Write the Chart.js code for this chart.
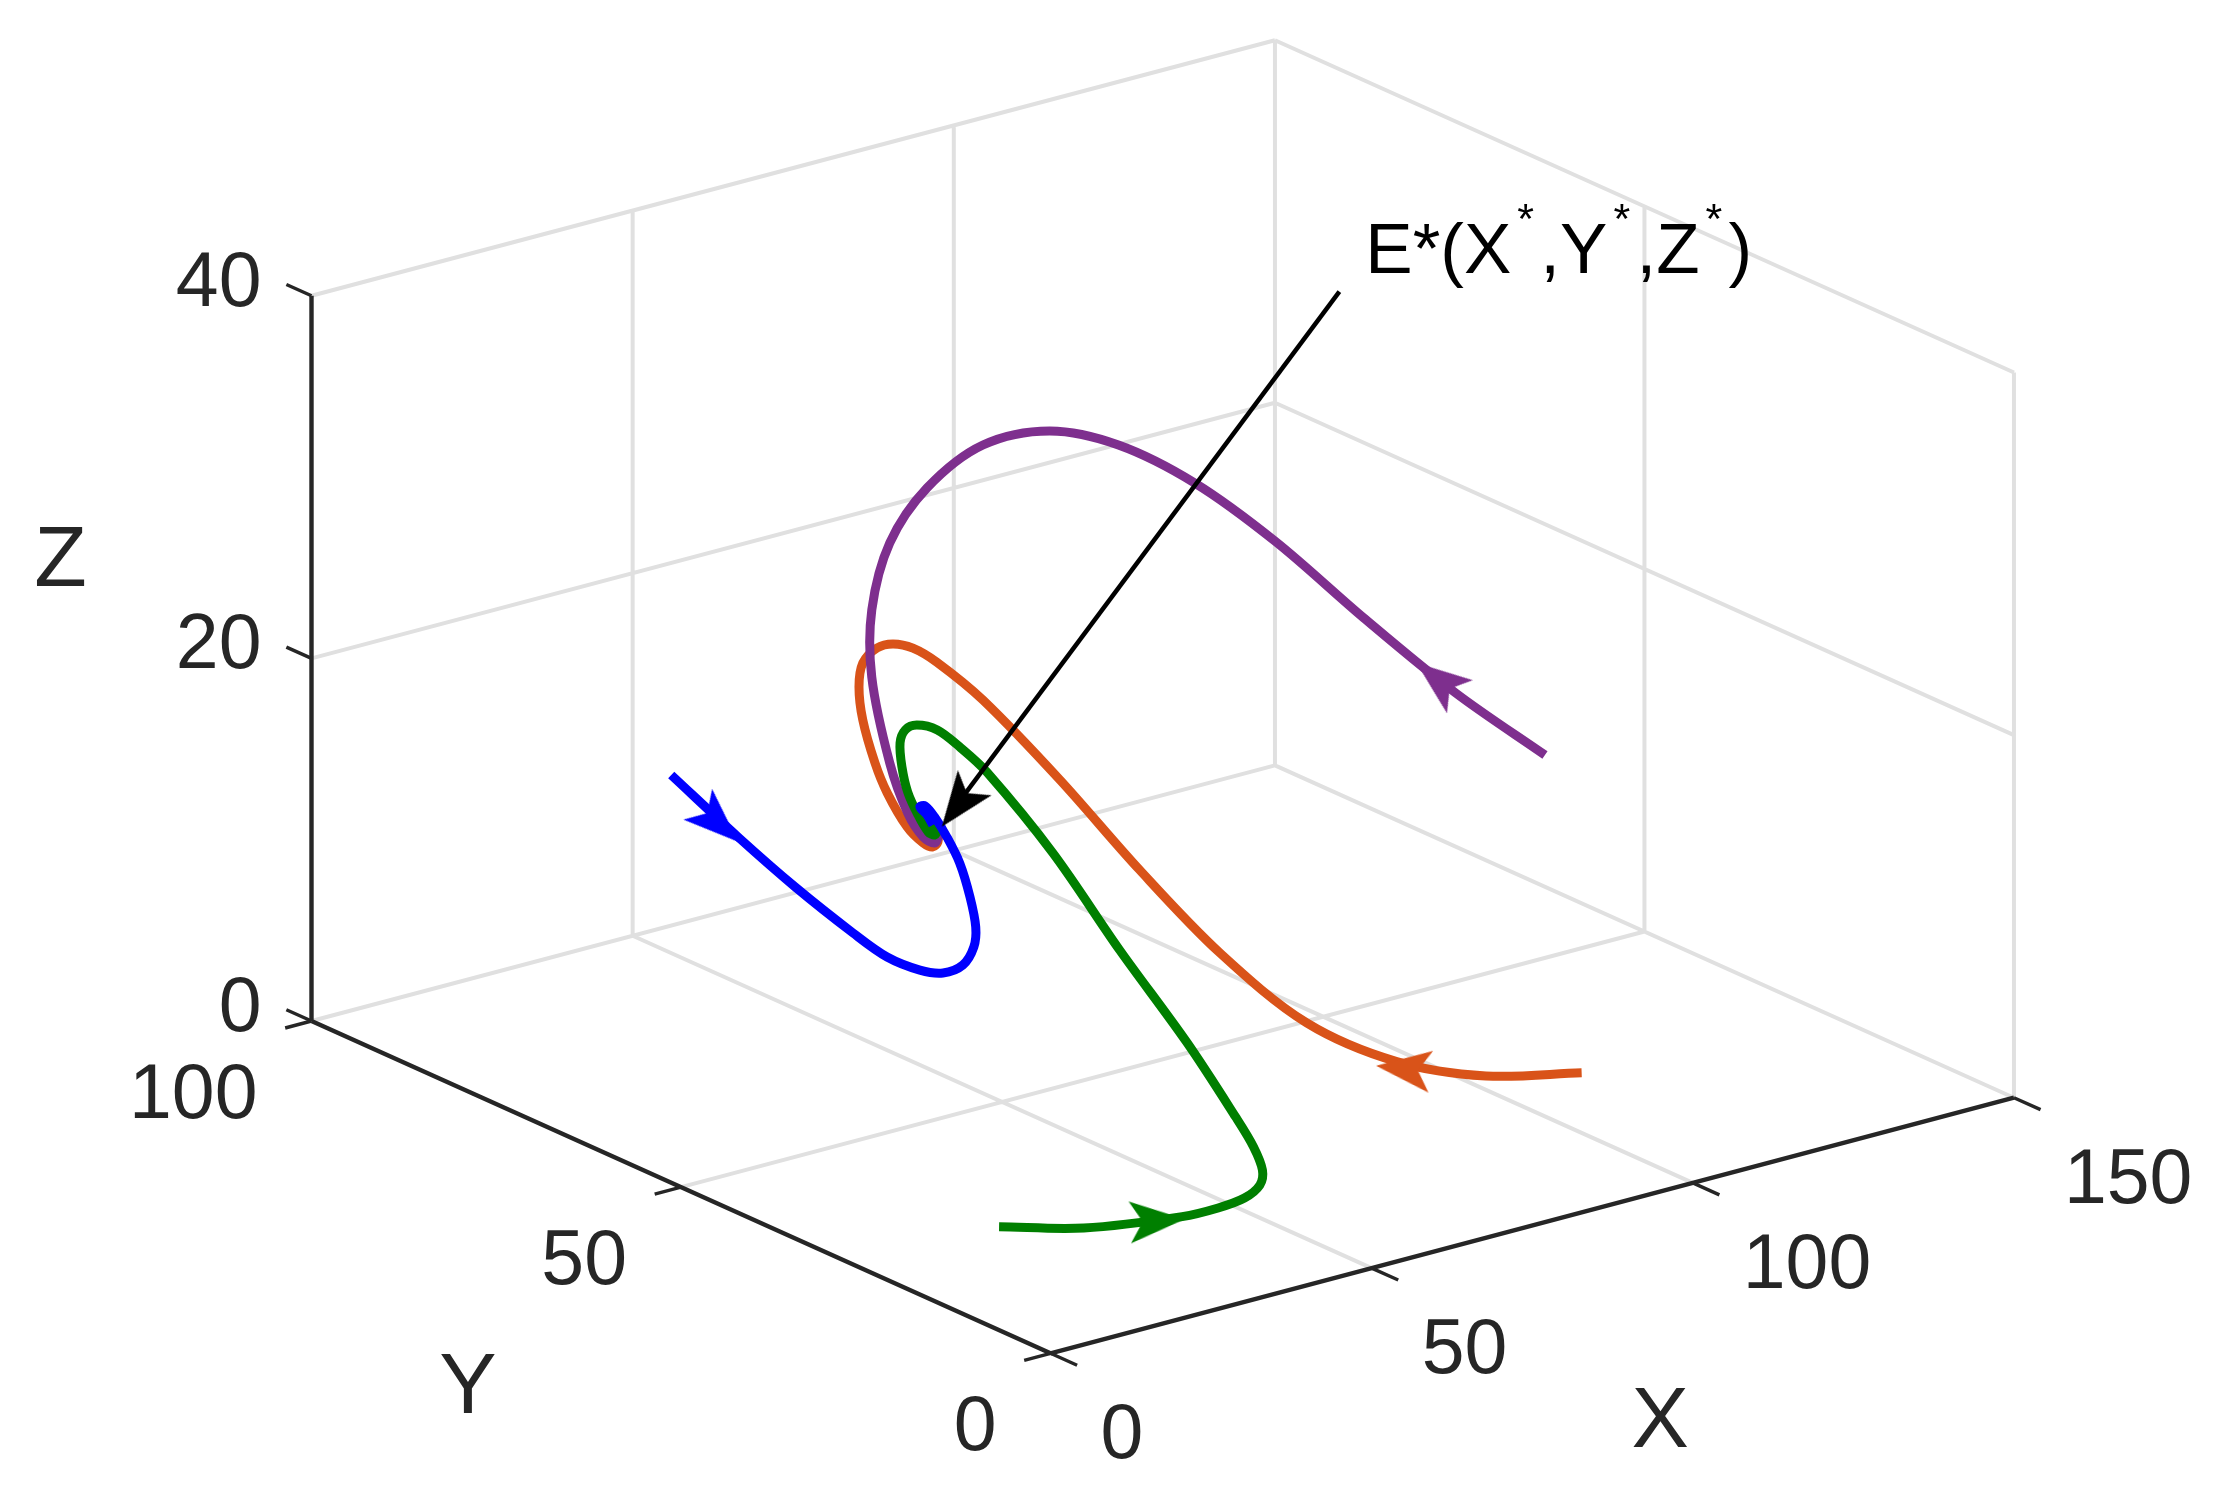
<!DOCTYPE html>
<html>
<head>
<meta charset="utf-8">
<title>E* phase portrait</title>
<script src="https://cdn.jsdelivr.net/npm/chart.js@4"></script>
<style>
	html, body { margin: 0; padding: 0; background: #fff; }
	canvas { display: block; }
</style>
</head>
<body>
<canvas id="chart" width="2225" height="1493"></canvas>
<script>
// axis ticks
const xTicks = [0, 50, 100, 150];
const yTicks = [0, 50, 100];
const zTicks = [0, 20, 40];

// trajectories, values
const purpleX = [111.5, 97.6, 83.3, 81.1, 68.5, 56.6, 45.9, 35.5, 26.8, 21.0, 18.2, 29.7, 32.5, 35.3, 37.7, 39.5, 40.0, 39.2];
const purpleY = [30, 30, 30, 40, 40, 40, 40, 40, 40, 40, 40, 50, 50, 50, 50, 50, 50, 50];
const purpleZ = [17.02, 21.75, 27.23, 29.81, 34.23, 37.45, 39.23, 39.43, 37.88, 35.39, 31.96, 25.35, 20.34, 17.31, 15.77, 15.27, 15.61, 16.24];

const orangeX = [94.2, 79.3, 65.4, 51.4, 49.4, 36.9, 36.0, 24.0, 16.8, 13.1, 10.0, 7.5, 5.3, 4.7, 28.3, 30.2, 32.1, 35.2, 37.7, 39.2, 40.0, 39.9, 39.1];
const orangeY = [10, 10, 10, 10, 20, 20, 30, 30, 30, 30, 30, 30, 30, 30, 50, 50, 50, 50, 50, 50, 50, 50, 50];
const orangeZ = [4.79, 6.01, 8.11, 11.56, 13.77, 19.52, 22.74, 28.28, 31.05, 32.17, 32.69, 32.70, 32.08, 30.81, 23.11, 20.56, 18.73, 16.56, 15.44, 15.08, 15.28, 15.84, 16.30];

const greenX = [3.5, 16.7, 32.0, 37.6, 41.7, 44.1, 44.5, 43.1, 40.3, 44.3, 33.8, 34.9, 24.6, 31.9, 28.4, 25.2, 23.4, 22.6, 34.4, 35.3, 36.9, 38.5, 39.5, 39.9, 39.1];
const greenY = [10, 10, 10, 10, 10, 10, 10, 10, 10, 20, 20, 30, 30, 40, 40, 40, 40, 40, 50, 50, 50, 50, 50, 50, 50];
const greenZ = [4.82, 3.51, 2.70, 2.65, 2.81, 3.30, 4.09, 5.51, 7.43, 9.29, 15.39, 18.81, 24.25, 23.11, 24.38, 24.95, 24.85, 24.21, 19.94, 18.47, 17.06, 15.97, 15.71, 15.95, 16.41];

const blueX = [44.5, 54.9, 52.3, 61.3, 55.1, 60.2, 63.8, 66.9, 68.6, 68.9, 56.5, 54.9, 41.4, 39.5, 38.0, 37.2, 38.3, 39.2];
const blueY = [90, 90, 80, 80, 70, 70, 70, 70, 70, 70, 60, 60, 50, 50, 50, 50, 50, 50];
const blueZ = [11.22, 6.82, 6.14, 2.76, 3.85, 2.65, 2.15, 2.30, 3.13, 4.20, 8.86, 10.88, 15.42, 16.70, 17.46, 17.47, 16.93, 16.29];

// annotation line, far end down to the base of its arrow head
const pointerX = [102.5, 44.1];
const pointerY = [50, 50];
const pointerZ = [39.76, 17.49];

// arrow heads: tip and the middle of the barbs
const arrowNames = ['pointer', 'blue', 'green', 'purple', 'orange'];
const arrowTipX = [40.6, 54.9, 32.4, 91.5, 62.2];
const arrowTipY = [50, 90, 10, 30, 10];
const arrowTipZ = [16.06, 6.56, 2.52, 23.98, 8.18];
const arrowTailX = [45.7, 49.1, 24.6, 98.5, 70.7];
const arrowTailY = [50, 90, 10, 30, 10];
const arrowTailZ = [18.0, 9.02, 3.09, 21.39, 7.05];

const colors = {
	pointer: '#000000',
	blue: '#0000ff',
	green: '#007f00',
	purple: '#7e2f8e',
	orange: '#d95319',
};
const axisColor = '#262626';
const gridColor = '#e0e0e0';
const font = '"Liberation Sans", Arial, sans-serif';

// orthographic view of the box, in canvas pixels per data unit
function project(x, y, z) {
	return { x: 6.423 * x - 7.39 * y, y: 1.704 * x + 3.323 * y + 18.13 * z };
}

function toPoints(xs, ys, zs) {
	return xs.map((x, i) => project(x, ys[i], zs[i]));
}

// one dataset per style, segments split by a gap
function segments(list) {
	const out = [];
	for (const [a, b] of list) {
		out.push(project(...a), project(...b), { x: NaN, y: NaN });
	}
	return out;
}

function curve(name, xs, ys, zs) {
	return {
		data: toPoints(xs, ys, zs),
		borderColor: colors[name],
		borderWidth: 9,
		borderJoinStyle: 'round',
		tension: 0.33,
		pointRadius: 0,
	};
}

function straight(data, color, width) {
	return { data, borderColor: color, borderWidth: width, tension: 0, pointRadius: 0, spanGaps: false };
}

// head is drawn pointing right, with its tip on the middle of the canvas
function makeHead(color) {
	const c = document.createElement('canvas');
	c.width = 130;
	c.height = 130;
	const g = c.getContext('2d');
	g.fillStyle = color;
	g.beginPath();
	g.moveTo(65, 65);
	g.lineTo(10, 44);
	g.lineTo(23, 65);
	g.lineTo(10, 86);
	g.closePath();
	g.fill();
	return c;
}

function arrowDataset(i) {
	const tip = project(arrowTipX[i], arrowTipY[i], arrowTipZ[i]);
	const tail = project(arrowTailX[i], arrowTailY[i], arrowTailZ[i]);
	const angle = Math.atan2(tail.y - tip.y, tip.x - tail.x) * 180 / Math.PI;
	return {
		data: [tip],
		showLine: false,
		pointStyle: makeHead(colors[arrowNames[i]]),
		pointRadius: 10,
		pointRotation: angle,
	};
}

const gridSegs = [];
for (const x of xTicks.slice(1)) {
	gridSegs.push([[x, 0, 0], [x, 100, 0]]);
	gridSegs.push([[x, 100, 0], [x, 100, 40]]);
}
for (const y of yTicks.slice(1)) {
	gridSegs.push([[0, y, 0], [150, y, 0]]);
}
for (const y of yTicks) {
	gridSegs.push([[150, y, 0], [150, y, 40]]);
}
for (const z of zTicks) {
	gridSegs.push([[0, 100, z], [150, 100, z]]);
	gridSegs.push([[150, 0, z], [150, 100, z]]);
}

const axisSegs = [
	[[0, 0, 0], [150, 0, 0]],
	[[0, 0, 0], [0, 100, 0]],
	[[0, 100, 0], [0, 100, 40]],
];

const tickSegs = [];
for (const x of xTicks) tickSegs.push([[x, 0, 0], [x, -3.6, 0]]);
for (const y of yTicks) tickSegs.push([[0, y, 0], [-4.1, y, 0]]);
for (const z of zTicks) tickSegs.push([[0, 100, z], [0, 103.4, z]]);

function drawLabel(ctx, chart, pos, dx, dy, text, size, align, color) {
	ctx.font = size + 'px ' + font;
	ctx.textAlign = align;
	ctx.textBaseline = 'alphabetic';
	ctx.fillStyle = color;
	const px = chart.scales.x.getPixelForValue(pos.x) + dx;
	const py = chart.scales.y.getPixelForValue(pos.y) + dy;
	ctx.fillText(text, px, py);
}

// E*(X*,Y*,Z*) with raised stars
function drawAnnotation(ctx, chart) {
	const pos = project(pointerX[0], pointerY[0], pointerZ[0]);
	let px = chart.scales.x.getPixelForValue(pos.x) + 26;
	const py = chart.scales.y.getPixelForValue(pos.y) - 19;
	ctx.textAlign = 'left';
	ctx.textBaseline = 'alphabetic';
	ctx.fillStyle = '#000';
	for (const part of ['E*(X', '^', ',Y', '^', ',Z', '^', ')']) {
		if (part === '^') {
			ctx.font = '43px ' + font;
			ctx.fillText('*', px + 6, py - 40);
			px += 29;
		} else {
			ctx.font = '71px ' + font;
			ctx.fillText(part, px, py);
			px += ctx.measureText(part).width;
		}
	}
}

const labelPlugin = {
	id: 'axisLabels',
	afterDatasetsDraw(chart) {
		const ctx = chart.ctx;
		ctx.save();
		for (const x of xTicks) drawLabel(ctx, chart, project(x, 0, 0), 50, 105, String(x), 77, 'left', axisColor);
		for (const y of yTicks) drawLabel(ctx, chart, project(0, y, 0), -54, 97, String(y), 77, 'right', axisColor);
		for (const z of zTicks) drawLabel(ctx, chart, project(0, 100, z), -50, 10, String(z), 77, 'right', axisColor);
		drawLabel(ctx, chart, project(75, 0, 0), 128, 221, 'X', 86, 'center', axisColor);
		drawLabel(ctx, chart, project(0, 50, 0), -213, 226, 'Y', 86, 'center', axisColor);
		drawLabel(ctx, chart, project(0, 100, 20), -251, -72, 'Z', 86, 'center', axisColor);
		drawAnnotation(ctx, chart);
		ctx.restore();
	},
};

// first dataset ends up on top
new Chart(document.getElementById('chart'), {
	type: 'line',
	data: {
		datasets: [
			arrowDataset(0),
			straight(toPoints(pointerX, pointerY, pointerZ), colors.pointer, 4.5),
			arrowDataset(1),
			arrowDataset(2),
			arrowDataset(3),
			arrowDataset(4),
			curve('blue', blueX, blueY, blueZ),
			curve('green', greenX, greenY, greenZ),
			curve('purple', purpleX, purpleY, purpleZ),
			curve('orange', orangeX, orangeY, orangeZ),
			straight(segments(axisSegs), axisColor, 4.4),
			straight(segments(tickSegs), axisColor, 3.4),
			straight(segments(gridSegs), gridColor, 4),
		],
	},
	options: {
		responsive: false,
		animation: false,
		layout: { padding: 0, autoPadding: false },
		plugins: { legend: { display: false }, tooltip: { enabled: false } },
		scales: {
			x: { type: 'linear', display: false, min: -1050.5, max: 1174.5 },
			y: { type: 'linear', display: false, min: -139.7, max: 1353.3 },
		},
	},
	plugins: [labelPlugin],
});
</script>
</body>
</html>
